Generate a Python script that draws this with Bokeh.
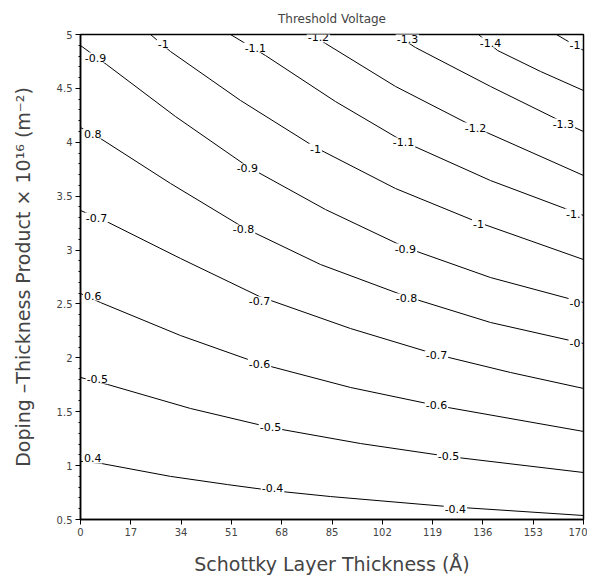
from bokeh.plotting import figure
from bokeh.models import FixedTicker, Range1d, ColumnDataSource
from bokeh.core.properties import value
from bokeh.embed import file_html
from bokeh.resources import INLINE

# ---- data ----
x_ticks = [0, 17, 34, 51, 68, 85, 102, 119, 136, 153, 170]
y_ticks = [0.5, 1, 1.5, 2, 2.5, 3, 3.5, 4, 4.5, 5]
y_tick_labels = ["0.5", "1", "1.5", "2", "2.5", "3", "3.5", "4", "4.5", "5"]

levels = [-0.4, -0.5, -0.6, -0.7, -0.8, -0.9, -1.0, -1.1, -1.2, -1.3, -1.4, -1.5]

x_m04 = [0, 7, 30.4, 49.7, 64.9, 84.5, 124.1, 170]
y_m04 = [1.04, 1.02, 0.90, 0.824, 0.768, 0.713, 0.62, 0.537]

x_m05 = [0, 9.13, 37.18, 64.21, 94.63, 124.37, 170]
y_m05 = [1.818, 1.753, 1.530, 1.354, 1.205, 1.085, 0.936]

x_m06 = [0, 6.76, 33.80, 60.50, 91.25, 120.32, 170]
y_m06 = [2.597, 2.513, 2.207, 1.947, 1.725, 1.558, 1.317]

x_m07 = [0, 8.79, 33.80, 60.50, 91.25, 120.32, 145.33, 170]
y_m07 = [3.367, 3.265, 2.922, 2.569, 2.272, 2.031, 1.864, 1.716]

x_m08 = [0, 6.76, 30.42, 55.09, 81.11, 110.18, 138.57, 170]
y_m08 = [4.137, 4.035, 3.618, 3.209, 2.866, 2.569, 2.328, 2.133]

x_m09 = [0, 8.79, 32.11, 56.44, 82.80, 109.84, 138.57, 170]
y_m09 = [4.898, 4.722, 4.239, 3.775, 3.376, 3.024, 2.745, 2.513]

x_m10 = [23.66, 30.42, 54.08, 79.42, 106.46, 134.51, 170]
y_m10 = [5.0, 4.842, 4.388, 3.952, 3.571, 3.256, 2.912]

x_m11 = [50.70, 62.52, 86.18, 109.16, 138.57, 170]
y_m11 = [5.0, 4.805, 4.378, 4.007, 3.645, 3.321]

x_m12 = [78.41, 82.80, 106.46, 133.50, 170]
y_m12 = [5.0, 4.917, 4.518, 4.137, 3.692]

x_m13 = [106.46, 113.22, 138.57, 163.24, 170]
y_m13 = [5.0, 4.879, 4.518, 4.184, 4.100]

x_m14 = [134.51, 140.93, 155.47, 170]
y_m14 = [5.0, 4.852, 4.657, 4.480]

x_m15 = [160.87, 170]
y_m15 = [5.0, 4.852]

# inline contour labels (centre-anchored)
label_text = ["-0.9", "0.8", "-0.7", "0.6", "-0.5", "0.4",
              "-1", "-1.1", "-1.2", "-1.3", "-1.4",
              "-0.9", "-1", "-1.1", "-1.2", "-1.3",
              "-0.8", "-0.9", "-1",
              "-0.7", "-0.8",
              "-0.6", "-0.7",
              "-0.5", "-0.6",
              "-0.4", "-0.5",
              "-0.4"]
label_x = [5.1, 4.1, 5.4, 4.1, 5.7, 4.1,
           28.0, 59.1, 80.4, 110.5, 138.6,
           56.4, 79.4, 109.2, 133.5, 163.2,
           55.1, 109.8, 134.5,
           60.5, 110.2,
           60.5, 120.3,
           64.2, 120.3,
           64.9, 124.4,
           126.7]
label_y = [4.786, 4.081, 3.302, 2.578, 1.808, 1.066,
           4.916, 4.879, 4.975, 4.962, 4.925,
           3.757, 3.942, 3.998, 4.137, 4.174,
           3.191, 3.014, 3.246,
           2.523, 2.551,
           1.947, 2.022,
           1.354, 1.567,
           0.788, 1.085,
           0.602]

# labels cut by the right edge of the frame in the reference (visible part only)
edge_text = ["-1", "-1.", "-0", "-0"]
edge_y = [4.907, 3.339, 2.513, 2.133]
edge_x = [170, 170, 170, 170]

FONT = "DejaVu Sans"

p = figure(width=587, height=578, output_backend="svg", toolbar_location=None,
           x_range=Range1d(0, 170), y_range=Range1d(0.5, 5),
           min_border_left=80, min_border_right=4, min_border_top=34, min_border_bottom=59)

p.title.text = "Threshold Voltage"
p.title.align = "center"
p.title.text_font = FONT
p.title.text_font_size = "12px"
p.title.text_font_style = "normal"
p.title.offset = 0
p.title.standoff = 17

p.xgrid.visible = False
p.ygrid.visible = False
p.outline_line_color = "black"
p.outline_line_width = 1.5

all_x = [x_m04, x_m05, x_m06, x_m07, x_m08, x_m09, x_m10, x_m11, x_m12, x_m13, x_m14, x_m15]
all_y = [y_m04, y_m05, y_m06, y_m07, y_m08, y_m09, y_m10, y_m11, y_m12, y_m13, y_m14, y_m15]
p.multi_line(xs=all_x, ys=all_y, line_color="black", line_width=1)

src = ColumnDataSource(dict(x=label_x, y=label_y, t=label_text))
p.text(x="x", y="y", text="t", source=src, text_font=value(FONT), text_font_size="11px",
       text_align="center", text_baseline="middle", text_color="black",
       background_fill_color="white", padding=1)

src2 = ColumnDataSource(dict(x=edge_x, y=edge_y, t=edge_text))
p.text(x="x", y="y", text="t", source=src2, text_font=value(FONT), text_font_size="11px",
       text_align="right", text_baseline="middle", text_color="black", x_offset=-2,
       background_fill_color="white", padding=1)

p.xaxis.ticker = FixedTicker(ticks=x_ticks)
p.yaxis.ticker = FixedTicker(ticks=y_ticks, minor_ticks=[0.5 + 0.1 * i for i in range(46)])
p.yaxis.major_label_overrides = {t: s for t, s in zip(y_ticks, y_tick_labels)}

for ax in (p.xaxis[0], p.yaxis[0]):
    ax.axis_line_color = "black"
    ax.axis_line_width = 1.5
    ax.major_tick_in = 0
    ax.major_tick_out = 5
    ax.minor_tick_in = 0
    ax.minor_tick_out = 2
    ax.major_label_text_font = FONT
    ax.major_label_text_font_size = "10px"
    ax.major_label_standoff = 3
    ax.axis_label_text_font = FONT
    ax.axis_label_text_font_style = "normal"
    ax.axis_label_text_font_size = "19px"

p.xaxis.minor_tick_line_color = None
p.xaxis.axis_label = "Schottky Layer Thickness (Å)"
p.yaxis.axis_label = "Doping –Thickness Product × 10¹⁶ (m⁻²)"
p.xaxis.axis_label_standoff = 14
p.yaxis.axis_label_standoff = 20

open("out.html", "w").write(file_html(p, INLINE))
